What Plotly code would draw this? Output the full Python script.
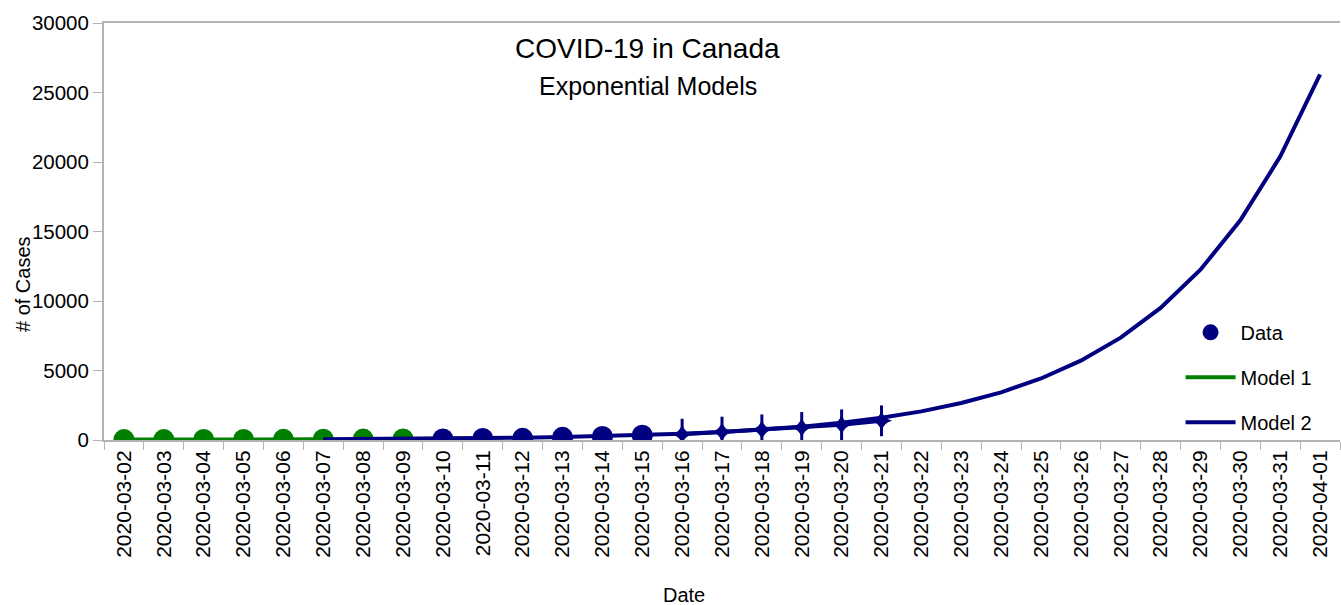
import plotly.graph_objects as go

# categories
dates = [
    "2020-03-02", "2020-03-03", "2020-03-04", "2020-03-05", "2020-03-06",
    "2020-03-07", "2020-03-08", "2020-03-09", "2020-03-10", "2020-03-11",
    "2020-03-12", "2020-03-13", "2020-03-14", "2020-03-15", "2020-03-16",
    "2020-03-17", "2020-03-18", "2020-03-19", "2020-03-20", "2020-03-21",
    "2020-03-22", "2020-03-23", "2020-03-24", "2020-03-25", "2020-03-26",
    "2020-03-27", "2020-03-28", "2020-03-29", "2020-03-30", "2020-03-31",
    "2020-04-01",
]

early_dates = dates[0:8]
early_cases = [27, 30, 33, 37, 49, 54, 64, 77]
mid_dates = dates[8:14]
mid_cases = [79, 108, 117, 193, 250, 340]
late_dates = dates[14:20]
late_cases = [420, 570, 730, 900, 1090, 1380]

# model curves
model1_dates = dates[0:6]
model1_cases = [27, 30, 34, 39, 44, 50]
model2_dates = dates[5:]
model2_cases = [
    45, 58, 75, 97, 125, 162, 209, 269, 347, 448, 578, 745, 960, 1240,
    1600, 2060, 2660, 3430, 4425, 5710, 7360, 9500, 12250, 15800, 20390,
    26300,
]

y_ticks = [0, 5000, 10000, 15000, 20000, 25000, 30000]

green = "#008000"
navy = "#000080"
axis_grey = "#b3b3b3"
font = "Liberation Sans, Arial, sans-serif"

fig = go.Figure()

fig.add_trace(
    go.Scatter(
        x=model1_dates, y=model1_cases, mode="lines", name="Model 1",
        line=dict(color=green, width=4), legendrank=2, legendgroup="m1",
    )
)
fig.add_trace(
    go.Scatter(
        x=early_dates, y=early_cases, mode="markers", showlegend=False,
        marker=dict(color=green, size=21, symbol="circle"),
    )
)
fig.add_trace(
    go.Scatter(
        x=mid_dates, y=mid_cases, mode="markers", name="Data",
        marker=dict(color=navy, size=21, symbol="circle"),
        legendrank=1, legendgroup="d",
    )
)
fig.add_trace(
    go.Scatter(
        x=late_dates, y=late_cases, mode="lines", showlegend=False,
        line=dict(color=navy, width=4),
    )
)
# tall four-point stars: vertical spike plus a small star
fig.add_trace(
    go.Scatter(
        x=late_dates, y=late_cases, mode="markers", showlegend=False,
        marker=dict(color=navy, size=22, symbol="line-ns",
                    line=dict(color=navy, width=3)),
    )
)
fig.add_trace(
    go.Scatter(
        x=late_dates, y=late_cases, mode="markers", showlegend=False,
        marker=dict(color=navy, size=15, symbol="star-diamond"),
    )
)
fig.add_trace(
    go.Scatter(
        x=model2_dates, y=model2_cases, mode="lines", name="Model 2",
        line=dict(color=navy, width=4), legendrank=3, legendgroup="m2",
    )
)

# titles
fig.add_annotation(
    text="COVID-19 in Canada", x=0.44, y=1.0, xref="paper", yref="paper",
    xanchor="center", yanchor="top", yshift=-8, showarrow=False,
    font=dict(size=28, color="black", family=font),
)
fig.add_annotation(
    text="Exponential Models", x=0.44, y=1.0, xref="paper", yref="paper",
    xanchor="center", yanchor="top", yshift=-47, showarrow=False,
    font=dict(size=25, color="black", family=font),
)
fig.add_annotation(
    text="# of Cases", x=-0.066, y=0.375, xref="paper", yref="paper",
    xanchor="center", yanchor="middle", textangle=-90, showarrow=False,
    font=dict(size=20, color="black", family=font),
)
fig.add_annotation(
    text="Date", x=0.469, y=-0.372, xref="paper", yref="paper",
    xanchor="center", yanchor="middle", showarrow=False,
    font=dict(size=20, color="black", family=font),
)

fig.update_layout(
    width=1341,
    height=605,
    margin=dict(l=104, r=1, t=23, b=165),
    plot_bgcolor="white",
    paper_bgcolor="white",
    font=dict(family=font, size=20, color="black"),
    xaxis=dict(
        type="category",
        categoryorder="array",
        categoryarray=dates,
        range=[-0.5, len(dates) - 0.5],
        tickangle=-90,
        tickson="boundaries",
        ticks="outside",
        ticklen=8,
        tickcolor=axis_grey,
        showline=True,
        linecolor=axis_grey,
        linewidth=2,
        mirror=True,
        showgrid=False,
        zeroline=False,
        automargin=False,
        tickfont=dict(size=21),
    ),
    yaxis=dict(
        range=[0, 30000],
        tickmode="array",
        tickvals=y_ticks,
        ticktext=[str(v) for v in y_ticks],
        ticks="outside",
        ticklen=9,
        tickcolor=axis_grey,
        showline=True,
        linecolor=axis_grey,
        linewidth=2,
        showgrid=False,
        zeroline=False,
        automargin=False,
        tickfont=dict(size=20.5),
    ),
    legend=dict(
        x=0.871,
        y=0.305,
        xanchor="left",
        yanchor="top",
        bgcolor="rgba(0,0,0,0)",
        itemwidth=50,
        tracegroupgap=16,
        font=dict(size=20),
    ),
)

# drop the default page margin so the figure fills the window
fig.write_html(
    "out.html",
    config={"displayModeBar": False},
    post_script="document.body.style.margin = '0px';",
)
